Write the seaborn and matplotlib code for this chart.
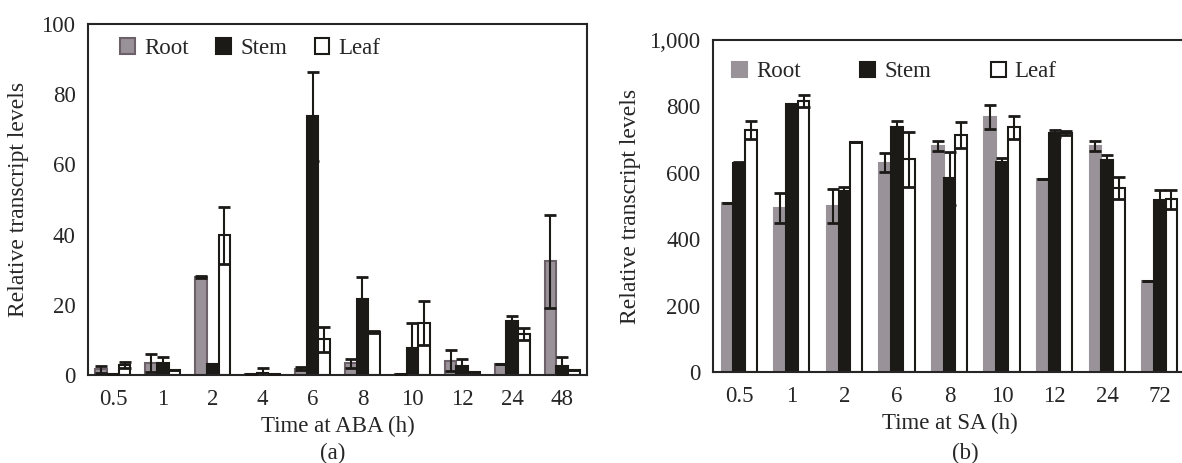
import numpy as np
import pandas as pd
import matplotlib
matplotlib.use('Agg')
import matplotlib.pyplot as plt
import matplotlib.patches as mpatches
from matplotlib.ticker import FuncFormatter, FixedLocator
import seaborn as sns

# данные панели (a): ABA
time_a = ['0.5', '1', '2', '4', '6', '8', '10', '12', '24', '48']
root_a = [1.6, 3.4, 28.0, 0.3, 1.8, 3.4, 0.3, 4.0, 3.0, 32.4]
root_a_err = [1.0, 2.6, 0.3, 0.0, 0.4, 1.3, 0.0, 3.0, 0.0, 13.2]
stem_a = [0.2, 3.5, 3.2, 0.7, 73.7, 21.7, 7.8, 2.7, 15.5, 2.7]
stem_a_err = [0.0, 1.5, 0.0, 1.2, 12.6, 6.1, 7.0, 1.8, 1.4, 2.3]
leaf_a = [2.9, 1.5, 39.8, 0.4, 10.2, 12.3, 14.8, 0.8, 11.6, 1.4]
leaf_a_err = [0.9, 0.0, 8.2, 0.0, 3.6, 0.2, 6.3, 0.0, 1.7, 0.0]

# данные панели (b): SA
time_b = ['0.5', '1', '2', '6', '8', '10', '12', '24', '72']
root_b = [508, 493, 500, 631, 682, 769, 581, 682, 273]
root_b_err = [0, 45, 50, 28, 15, 36, 0, 15, 0]
stem_b = [629, 808, 545, 737, 584, 633, 719, 638, 517]
stem_b_err = [3, 0, 13, 20, 80, 12, 10, 15, 32]
leaf_b = [729, 816, 692, 641, 714, 737, 719, 553, 520]
leaf_b_err = [28, 18, 0, 83, 38, 35, 6, 33, 29]

tissues = ['Root', 'Stem', 'Leaf']
colors = {'Root': '#9a9299', 'Stem': '#1c1a17', 'Leaf': '#ffffff'}

sns.set_style('white')
plt.rcParams['font.family'] = ['Liberation Serif', 'DejaVu Serif']
plt.rcParams['axes.linewidth'] = 1.5
fs = 16.5


def make_df(times, root, stem, leaf, root_err, stem_err, leaf_err):
    rows = []
    for t, vals, errs in [('Root', root, root_err), ('Stem', stem, stem_err), ('Leaf', leaf, leaf_err)]:
        for x, v, e in zip(times, vals, errs):
            rows.append({'time': x, 'tissue': t, 'value': v, 'err': e})
    return pd.DataFrame(rows)


def draw_panel(ax, df, times, width, root_edge, ylim, yticks, xlabel, legend_pos, colspace):
    sns.barplot(data=df, x='time', y='value', hue='tissue', order=times, hue_order=tissues,
                palette=colors, width=width, errorbar=None, saturation=1, legend=False, ax=ax)
    edges = {'Root': root_edge, 'Stem': '#1c1a17', 'Leaf': '#1c1a17'}
    # рамки и планки погрешностей
    for cont, t in zip(ax.containers, tissues):
        sub = df[df['tissue'] == t].set_index('time').loc[times]
        xs, ys = [], []
        for bar in cont:
            bar.set_edgecolor(edges[t])
            bar.set_linewidth(1.5)
            xs.append(bar.get_x() + bar.get_width() / 2)
            ys.append(bar.get_height())
        ax.errorbar(xs, ys, yerr=sub['err'].values, fmt='none', ecolor='#1c1a17',
                    elinewidth=1.5, capsize=4, capthick=2, zorder=5)
    ax.set_ylim(*ylim)
    ax.set_yticks(yticks)
    ax.set_xlim(-0.5, len(times) - 0.5)
    ax.tick_params(axis='y', direction='in', length=5, width=1.5, labelsize=fs, pad=9)
    ax.tick_params(axis='x', which='major', length=0, labelsize=fs, pad=10)
    ax.xaxis.set_minor_locator(FixedLocator(np.arange(0.5, len(times) - 0.5, 1)))
    ax.tick_params(axis='x', which='minor', direction='in', length=5, width=1.5)
    ax.set_xlabel(xlabel, fontsize=fs, labelpad=4)
    ax.set_ylabel('Relative transcript levels', fontsize=fs + 0.5)
    handles = [mpatches.Patch(facecolor=colors[t], edgecolor=edges[t], linewidth=1.5, label=t)
               for t in tissues]
    ax.legend(handles=handles, ncol=3, frameon=False, loc='center left', bbox_to_anchor=legend_pos,
              borderpad=0, borderaxespad=0, handlelength=0.65, handleheight=0.65,
              handletextpad=0.4, columnspacing=colspace, fontsize=fs)


fig = plt.figure(figsize=(11.82, 4.63), dpi=100)
ax_a = fig.add_axes([88 / 1182, 88 / 463, 499 / 1182, 351 / 463])
ax_b = fig.add_axes([713 / 1182, 91 / 463, 473 / 1182, 332 / 463])

df_a = make_df(time_a, root_a, stem_a, leaf_a, root_a_err, stem_a_err, leaf_a_err)
df_b = make_df(time_b, root_b, stem_b, leaf_b, root_b_err, stem_b_err, leaf_b_err)

draw_panel(ax_a, df_a, time_a, 0.7, '#6d6169', (0, 100), [0, 20, 40, 60, 80, 100],
           'Time at ABA (h)', (0.064, 0.93), 1.2)
draw_panel(ax_b, df_b, time_b, 0.67, '#9a9299', (0, 1000), [0, 200, 400, 600, 800, 1000],
           'Time at SA (h)', (0.04, 0.904), 2.6)
ax_b.yaxis.set_major_formatter(FuncFormatter(lambda v, pos: '{:,.0f}'.format(v)))
ax_b.spines['right'].set_visible(False)

ax_a.yaxis.set_label_coords(-0.118, 0.5)
ax_b.yaxis.set_label_coords(-0.152, 0.5)

fig.text(333 / 1182, 1 - 453 / 463, '(a)', ha='center', va='center', fontsize=fs)
fig.text(965 / 1182, 1 - 453 / 463, '(b)', ha='center', va='center', fontsize=fs)

fig.savefig('out.png', dpi=100)
